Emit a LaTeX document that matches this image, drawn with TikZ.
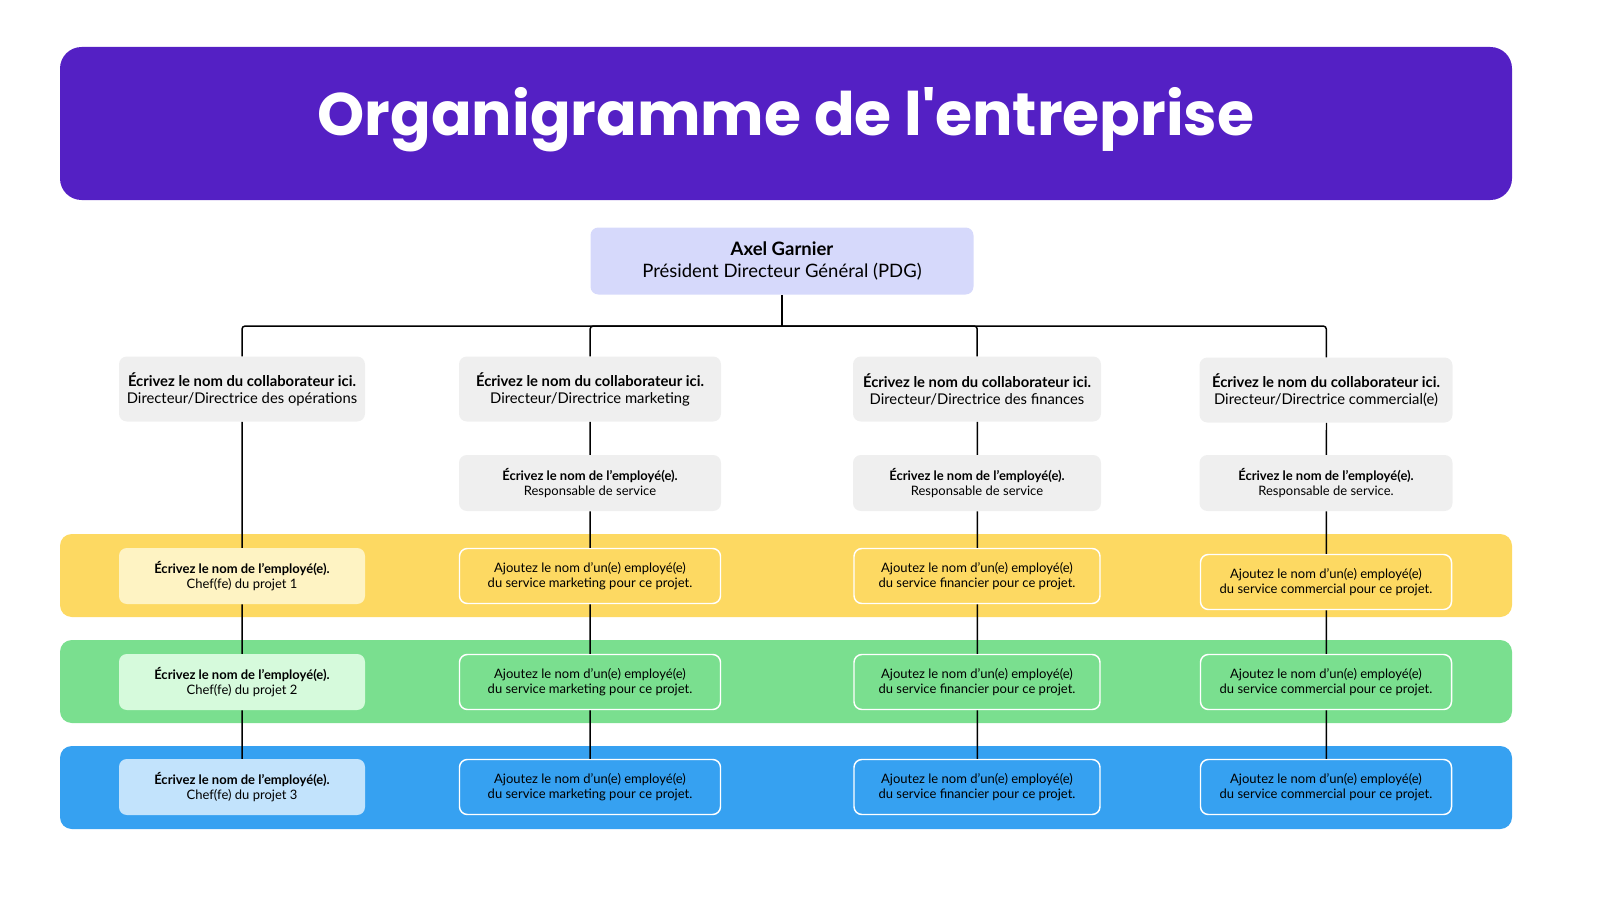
\documentclass[tikz,border=0pt]{standalone}
\usepackage{fontspec}
\setmainfont{Lato}
\newfontfamily\titlefont{Poppins}
\usetikzlibrary{positioning}
\definecolor{titleviolet}{RGB}{84,32,196}
\definecolor{ceoblue}{RGB}{214,217,251}
\definecolor{boxgray}{RGB}{239,239,239}
\definecolor{bandyellow}{RGB}{253,217,98}
\definecolor{bandgreen}{RGB}{122,223,143}
\definecolor{bandblue}{RGB}{54,161,241}
\definecolor{lightyellow}{RGB}{254,243,195}
\definecolor{lightgreen}{RGB}{214,250,220}
\definecolor{lightblue}{RGB}{194,227,252}
\tikzset{
  band/.style={
      fill=#1,
      rounded corners=12pt,
  },
  chef/.style={
      fill=#1,
      rounded corners=8pt,
      minimum width=246pt,
      minimum height=56pt,
      align=center,
      font=\fontsize{13}{15.5}\selectfont,
  },
  membre/.style={
      fill=#1,
      draw=white,
      line width=1.5pt,
      rounded corners=8pt,
      minimum height=55pt,
      align=center,
      font=\fontsize{13}{15.5}\selectfont,
  },
  direction/.style={
      fill=boxgray,
      rounded corners=8pt,
      minimum height=65pt,
      align=center,
      font=\fontsize{14.8}{17}\selectfont,
  },
  service/.style={
      fill=boxgray,
      rounded corners=8pt,
      minimum height=56pt,
      align=center,
      font=\fontsize{13}{15.5}\selectfont,
  },
  lien/.style={
      line width=1.5pt,
      rounded corners=3pt,
  },
}
\newcommand{\ajout}[1]{Ajoutez le nom d'un(e) employé(e)\\du service #1 pour ce projet.}
\begin{document}
\begin{tikzpicture}[x=1pt,y=-1pt,scale=1.0205,transform shape]
  \useasboundingbox (0,0) rectangle (1600,900);
  % titre
  \fill[titleviolet,rounded corners=22pt] (60,47) rectangle (1512,200);
  \node[text=white,font=\titlefont\bfseries\fontsize{60}{64}\selectfont] (titre) at (786,120) {Organigramme de l'entreprise};
  % bandes
  \fill[band=bandyellow] (60,534) rectangle (1512,617);
  \fill[band=bandgreen] (60,640) rectangle (1512,723);
  \fill[band=bandblue] (60,746) rectangle (1512,829);
  % PDG
  \node[fill=ceoblue,rounded corners=8pt,minimum width=383pt,minimum height=67pt,
    align=center,font=\fontsize{18.5}{22}\selectfont] (pdg) at (782,261)
    {\textbf{Axel Garnier}\\Président Directeur Général (PDG)};
  % directions
  \node[direction,minimum width=246pt] (d1) at (242,389) {\textbf{Écrivez le nom du collaborateur ici.}\\Directeur/Directrice des opérations};
  \node[direction,minimum width=262pt] (d2) at (590,389) {\textbf{Écrivez le nom du collaborateur ici.}\\Directeur/Directrice marketing};
  \node[direction,minimum width=248pt] (d3) at (977,389) {\textbf{Écrivez le nom du collaborateur ici.}\\Directeur/Directrice des finances};
  \node[direction,minimum width=253pt] (d4) at (1326,390) {\textbf{Écrivez le nom du collaborateur ici.}\\Directeur/Directrice commercial(e)};
  % responsables
  \node[service,minimum width=262pt] (s2) at (590,483) {\textbf{Écrivez le nom de l'employé(e).}\\Responsable de service};
  \node[service,minimum width=248pt] (s3) at (977,483) {\textbf{Écrivez le nom de l'employé(e).}\\Responsable de service};
  \node[service,minimum width=253pt] (s4) at (1326,483) {\textbf{Écrivez le nom de l'employé(e).}\\Responsable de service.};
  % chefs de projet
  \node[chef=lightyellow] (c1) at (242,576) {\textbf{Écrivez le nom de l'employé(e).}\\Chef(fe) du projet 1};
  \node[chef=lightgreen] (c2) at (242,682) {\textbf{Écrivez le nom de l'employé(e).}\\Chef(fe) du projet 2};
  \node[chef=lightblue] (c3) at (242,787) {\textbf{Écrivez le nom de l'employé(e).}\\Chef(fe) du projet 3};
  % membres
  \node[membre=bandyellow,minimum width=261pt] (m21) at (590,576) {\ajout{marketing}};
  \node[membre=bandgreen,minimum width=261pt] (m22) at (590,682) {\ajout{marketing}};
  \node[membre=bandblue,minimum width=261pt] (m23) at (590,787) {\ajout{marketing}};
  \node[membre=bandyellow,minimum width=246pt] (m31) at (977,576) {\ajout{financier}};
  \node[membre=bandgreen,minimum width=246pt] (m32) at (977,682) {\ajout{financier}};
  \node[membre=bandblue,minimum width=246pt] (m33) at (977,787) {\ajout{financier}};
  \node[membre=bandyellow,minimum width=251pt] (m41) at (1326,582) {\ajout{commercial}};
  \node[membre=bandgreen,minimum width=251pt] (m42) at (1326,682) {\ajout{commercial}};
  \node[membre=bandblue,minimum width=251pt] (m43) at (1326,787) {\ajout{commercial}};
  % liens
  \coordinate (bus) at (782,326);
  \draw[line width=1.5pt] (pdg.south) -- (bus);
  \draw[lien] (bus) -| (d1.north);
  \draw[lien] (bus) -| (d2.north);
  \draw[lien] (bus) -| (d3.north);
  \draw[lien] (bus) -| (d4.north);
  \draw[lien] (d1) -- (c1) (c1) -- (c2) (c2) -- (c3);
  \draw[lien] (d2) -- (s2) (s2) -- (m21) (m21) -- (m22) (m22) -- (m23);
  \draw[lien] (d3) -- (s3) (s3) -- (m31) (m31) -- (m32) (m32) -- (m33);
  \draw[lien] (d4) -- (s4) (s4) -- (m41) (m41) -- (m42) (m42) -- (m43);
\end{tikzpicture}
\end{document}
